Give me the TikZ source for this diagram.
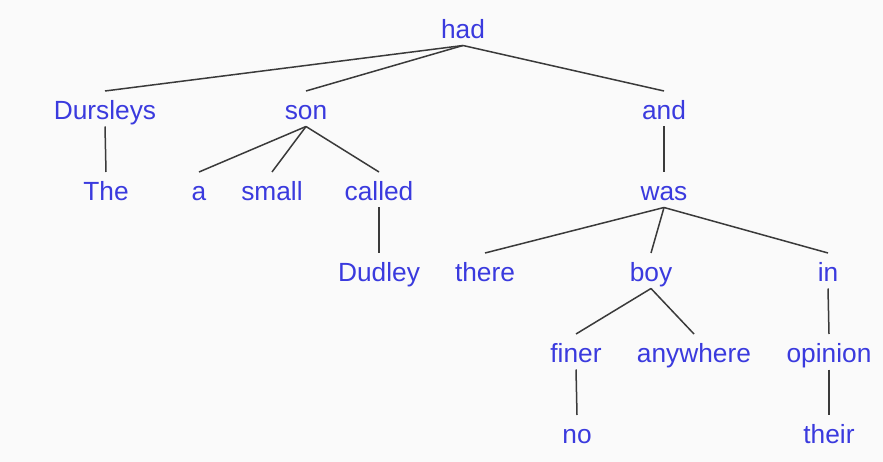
\documentclass[tikz,border=0pt]{standalone}
\usepackage{fontspec}
\setmainfont{Liberation Sans}
\definecolor{bgc}{HTML}{FAFAFA}
\definecolor{wordc}{RGB}{58,58,222}
\definecolor{edgec}{HTML}{3A3A3A}
\begin{document}
\begin{tikzpicture}[x=1pt,y=-1pt,
  word/.style={anchor=base,inner sep=0pt,text=wordc,font=\fontsize{26.3}{30}\selectfont},
  edge/.style={draw=edgec,line width=1.5pt}]
\fill[bgc] (0,0) rectangle (883,462);
\useasboundingbox (0,0) rectangle (883,462);
% row 0
\node[word] (had) at (463,38.5) {had};
% row 1
\node[word] (dur) at (105,119.5) {Dursleys};
\node[word] (son) at (306,119.5) {son};
\node[word] (and) at (664,119.5) {and};
% row 2
\node[word] (the) at (106,200.5) {The};
\node[word] (a) at (199,200.5) {a};
\node[word] (small) at (272,200.5) {small};
\node[word] (called) at (379,200.5) {called};
\node[word] (was) at (664,200.5) {was};
% row 3
\node[word] (dudley) at (379,281.5) {Dudley};
\node[word] (there) at (485,281.5) {there};
\node[word] (boy) at (651,281.5) {boy};
\node[word] (in) at (828,281.5) {in};
% row 4
\node[word] (finer) at (576,362.5) {finer};
\node[word] (anyw) at (694,362.5) {anywhere};
\node[word] (opinion) at (829,362.5) {opinion};
% row 5
\node[word] (no) at (577,443.5) {no};
\node[word] (their) at (829,443.5) {their};
% edges
\foreach \p/\c in {had/dur,had/son,had/and,dur/the,son/a,son/small,son/called,
  and/was,called/dudley,was/there,was/boy,was/in,boy/finer,boy/anyw,in/opinion,
  finer/no,opinion/their}
  \draw[edge] ([yshift=-7pt]\p.base) -- ([yshift=28.5pt]\c.base);
\end{tikzpicture}
\end{document}
